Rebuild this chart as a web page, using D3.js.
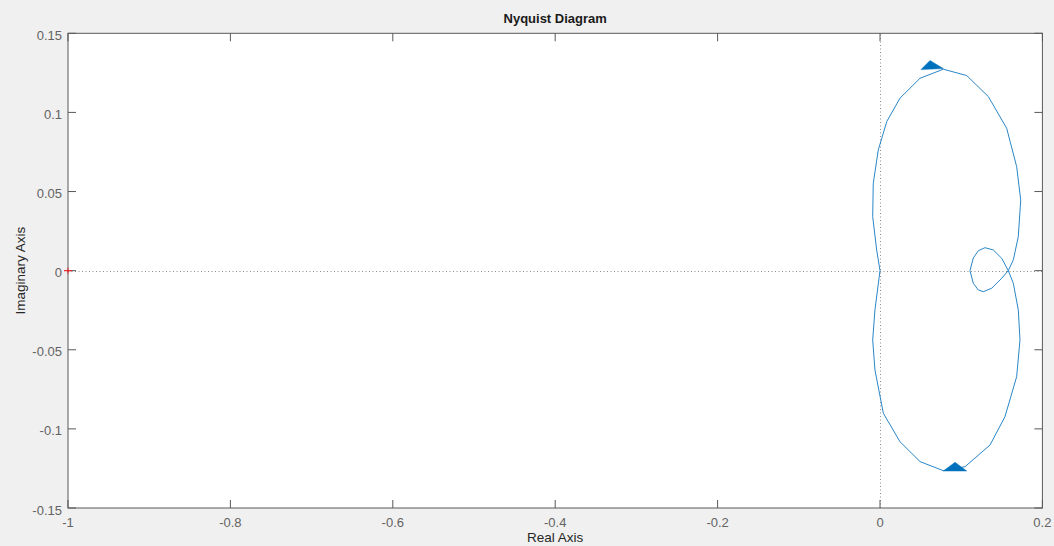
<!DOCTYPE html>
<html>
<head>
<meta charset="utf-8">
<script src="https://cdn.jsdelivr.net/npm/d3@7"></script>
<style>
  html, body { margin: 0; padding: 0; background: #f0f0f0; }
  svg { display: block; }
  text { font-family: "Liberation Sans", Arial, Helvetica, sans-serif; }
</style>
</head>
<body>
<svg id="chart" width="1054" height="546"></svg>
<script>
// ---- Data ----
const title = "Nyquist Diagram";
const xLabel = "Real Axis";
const yLabel = "Imaginary Axis";
const xTicks = [-1, -0.8, -0.6, -0.4, -0.2, 0, 0.2];
const xTickLabels = ["-1", "-0.8", "-0.6", "-0.4", "-0.2", "0", "0.2"];
const yTicks = [0.15, 0.1, 0.05, 0, -0.05, -0.1, -0.15];
const yTickLabels = ["0.15", "0.1", "0.05", "0", "-0.05", "-0.1", "-0.15"];
const xDomain = [-1, 0.2];
const yDomain = [-0.15, 0.15];

// Branch through lower half of the small loop, then upper lobe, ending at origin
const upperRe = [0.1108, 0.1149, 0.1211, 0.1272, 0.1376, 0.1499, 0.1580, 0.1642, 0.1703, 0.1733, 0.1683, 0.1560, 0.1334, 0.1068, 0.0780, 0.0493, 0.0246, 0.0083, -0.0021, -0.0083, -0.0090, -0.0041, 0.0000];
const upperIm = [0.0000, -0.0080, -0.0122, -0.0133, -0.0111, -0.0048, 0.0000, 0.0068, 0.0215, 0.0447, 0.0657, 0.0900, 0.1100, 0.1233, 0.1273, 0.1216, 0.1090, 0.0942, 0.0763, 0.0552, 0.0341, 0.0131, 0.0000];
// Branch through upper half of the small loop, then lower lobe, ending at origin
const lowerRe = [0.1108, 0.1149, 0.1211, 0.1293, 0.1395, 0.1499, 0.1580, 0.1642, 0.1703, 0.1724, 0.1683, 0.1539, 0.1355, 0.1047, 0.0780, 0.0493, 0.0246, 0.0041, -0.0062, -0.0090, -0.0062, 0.0000];
const lowerIm = [0.0000, 0.0080, 0.0126, 0.0145, 0.0131, 0.0078, 0.0000, -0.0080, -0.0248, -0.0438, -0.0670, -0.0923, -0.1102, -0.1239, -0.1264, -0.1207, -0.1081, -0.0901, -0.0628, -0.0438, -0.0248, 0.0000];

// Direction arrows (triangle vertices, data coordinates)
const arrowTopRe = [0.0505, 0.0616, 0.0780];
const arrowTopIm = [0.1271, 0.1328, 0.1277];
const arrowBotRe = [0.0780, 0.0924, 0.1068];
const arrowBotIm = [-0.1266, -0.1211, -0.1266];

// Critical point
const criticalRe = [-1];
const criticalIm = [0];

// ---- Layout ----
const W = 1054, H = 546;
const plot = { left: 68, top: 33.3, right: 1042.4, bottom: 508 };
const lineColor = "#2a86c6";
const arrowColor = "#0072BD";
const axisColor = "#595959";
const tickTextColor = "#636363";
const labelColor = "#262626";

const svg = d3.select("#chart");
svg.append("rect").attr("x", 0).attr("y", 0).attr("width", W).attr("height", H).attr("fill", "#f0f0f0");

const x = d3.scaleLinear().domain(xDomain).range([plot.left, plot.right]);
const y = d3.scaleLinear().domain(yDomain).range([plot.bottom, plot.top]);

svg.append("rect")
  .attr("x", plot.left).attr("y", plot.top)
  .attr("width", plot.right - plot.left).attr("height", plot.bottom - plot.top)
  .attr("fill", "#ffffff");

svg.append("clipPath").attr("id", "clip").append("rect")
  .attr("x", plot.left).attr("y", plot.top)
  .attr("width", plot.right - plot.left).attr("height", plot.bottom - plot.top);

const g = svg.append("g").attr("clip-path", "url(#clip)");

// dotted zero lines
g.append("line")
  .attr("x1", x(xDomain[0])).attr("x2", x(xDomain[1]))
  .attr("y1", Math.round(y(0)) + 0.5).attr("y2", Math.round(y(0)) + 0.5)
  .attr("stroke", "#8c8c8c").attr("stroke-width", 1).attr("stroke-dasharray", "1,2.5");
g.append("line")
  .attr("x1", Math.round(x(0)) + 0.5).attr("x2", Math.round(x(0)) + 0.5)
  .attr("y1", y(yDomain[0])).attr("y2", y(yDomain[1]))
  .attr("stroke", "#8c8c8c").attr("stroke-width", 1).attr("stroke-dasharray", "1,2.5");

// curves
const line = d3.line().x(d => x(d[0])).y(d => y(d[1]));
const upper = upperRe.map((v, i) => [v, upperIm[i]]);
const lower = lowerRe.map((v, i) => [v, lowerIm[i]]);
[upper, lower].forEach(pts => {
  g.append("path").attr("d", line(pts))
    .attr("fill", "none").attr("stroke", lineColor).attr("stroke-width", 1)
    .attr("stroke-linejoin", "round");
});

// arrows
[[arrowTopRe, arrowTopIm], [arrowBotRe, arrowBotIm]].forEach(([re, im]) => {
  const pts = re.map((v, i) => [v, im[i]]);
  g.append("path").attr("d", line(pts) + "Z")
    .attr("fill", arrowColor).attr("stroke", arrowColor).attr("stroke-width", 0.5);
});

// axes box
const box = svg.append("g");
box.append("rect")
  .attr("x", plot.left).attr("y", plot.top)
  .attr("width", plot.right - plot.left).attr("height", plot.bottom - plot.top)
  .attr("fill", "none").attr("stroke", axisColor).attr("stroke-width", 1);

// ticks (inside, all four sides)
const tl = 8;
xTicks.forEach(t => {
  const px = x(t);
  box.append("line").attr("x1", px).attr("x2", px).attr("y1", plot.bottom).attr("y2", plot.bottom - tl).attr("stroke", axisColor);
  box.append("line").attr("x1", px).attr("x2", px).attr("y1", plot.top).attr("y2", plot.top + tl).attr("stroke", axisColor);
});
yTicks.forEach(t => {
  const py = y(t);
  box.append("line").attr("y1", py).attr("y2", py).attr("x1", plot.left).attr("x2", plot.left + tl).attr("stroke", axisColor);
  box.append("line").attr("y1", py).attr("y2", py).attr("x1", plot.right).attr("x2", plot.right - tl).attr("stroke", axisColor);
});

// tick labels
xTicks.forEach((t, i) => {
  svg.append("text").attr("x", x(t)).attr("y", plot.bottom + 19)
    .attr("text-anchor", "middle").attr("font-size", 13).attr("fill", tickTextColor)
    .text(xTickLabels[i]);
});
yTicks.forEach((t, i) => {
  svg.append("text").attr("x", plot.left - 6).attr("y", y(t) + 6.5)
    .attr("text-anchor", "end").attr("font-size", 13).attr("fill", tickTextColor)
    .text(yTickLabels[i]);
});

// critical point marker (red +)
const cx = x(criticalRe[0]), cy = y(criticalIm[0]);
svg.append("line").attr("x1", cx - 4).attr("x2", cx + 4).attr("y1", cy).attr("y2", cy).attr("stroke", "#e8262b").attr("stroke-width", 1.2);
svg.append("line").attr("x1", cx).attr("x2", cx).attr("y1", cy - 3).attr("y2", cy + 3).attr("stroke", "#e8262b").attr("stroke-width", 1);

// title & labels
svg.append("text").attr("x", (plot.left + plot.right) / 2).attr("y", 23)
  .attr("text-anchor", "middle").attr("font-size", 13).attr("font-weight", "bold").attr("fill", "#1a1a1a")
  .text(title);
svg.append("text").attr("x", (plot.left + plot.right) / 2).attr("y", 542)
  .attr("text-anchor", "middle").attr("font-size", 13.5).attr("fill", labelColor)
  .text(xLabel);
svg.append("text")
  .attr("transform", `translate(25, ${(plot.top + plot.bottom) / 2}) rotate(-90)`)
  .attr("text-anchor", "middle").attr("font-size", 13.5).attr("fill", labelColor)
  .text(yLabel);
</script>
</body>
</html>
